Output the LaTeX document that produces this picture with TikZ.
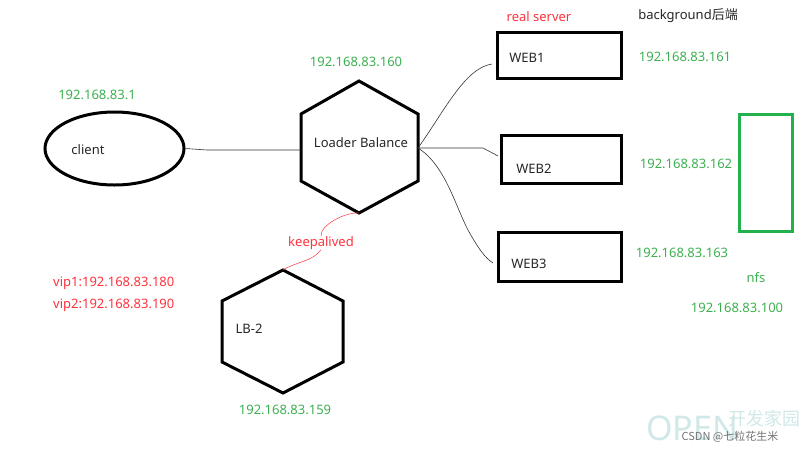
\documentclass[tikz,border=0pt]{standalone}
\usepackage{fontspec}
\setmainfont{Noto Sans}
\newfontfamily\cjk{Noto Sans CJK SC}
\usetikzlibrary{shapes.geometric}
\definecolor{ipgreen}{RGB}{60,176,80}
\definecolor{boxgreen}{RGB}{34,177,76}
\definecolor{lblred}{RGB}{255,50,60}
\tikzset{
  shapeline/.style={line width=3pt, line join=miter},
  boxnode/.style={draw, shapeline, minimum width=124pt, minimum height=46pt, inner sep=0pt},
  iplabel/.style={text=ipgreen, font=\fontsize{13}{15}\selectfont, inner sep=0pt},
  redlabel/.style={text=lblred, font=\fontsize{13}{15}\selectfont, inner sep=0pt},
  blacklabel/.style={text=black!85, font=\fontsize{13}{15}\selectfont, inner sep=0pt},
  thinwire/.style={line width=0.6pt, black!80},
  redwire/.style={line width=0.5pt, lblred},
}
\begin{document}
\begin{tikzpicture}[x=1pt,y=-1pt]
\useasboundingbox (0,0) rectangle (800,450);
% client
\node[draw, shapeline, ellipse, minimum width=139pt, minimum height=73pt, inner sep=0pt] (client) at (114.5,148.5) {};
\node[blacklabel] (clientt) at (88,150) {client};
\node[iplabel] (ipc) at (97,95) {192.168.83.1};
% Loader Balance hexagon
\coordinate (lbT) at (359,81);
\coordinate (lbUL) at (301,114);
\coordinate (lbLL) at (301,181);
\coordinate (lbB) at (359,213);
\coordinate (lbLR) at (418,181);
\coordinate (lbUR) at (418,114);
\coordinate (lbR) at (418,148);
\coordinate (lbL) at (301,150);
\draw[shapeline] (lbT) -- (lbUL) -- (lbLL) -- (lbB) -- (lbLR) -- (lbUR) -- cycle;
\node[blacklabel] (lbt) at (361,143) {Loader Balance};
\node[iplabel] (iplb) at (356,62) {192.168.83.160};
% LB-2 hexagon
\coordinate (lb2T) at (283,270);
\coordinate (lb2UL) at (222,301);
\coordinate (lb2LL) at (222,362);
\coordinate (lb2B) at (283,393);
\coordinate (lb2LR) at (343,362);
\coordinate (lb2UR) at (343,301);
\draw[shapeline] (lb2T) -- (lb2UL) -- (lb2LL) -- (lb2B) -- (lb2LR) -- (lb2UR) -- cycle;
\node[blacklabel] (lb2t) at (249,329) {LB-2};
\node[iplabel] (iplb2) at (285,410) {192.168.83.159};
% web boxes
\node[boxnode, minimum width=124pt, minimum height=46pt] (web1) at (559,55) {};
\node[blacklabel] (web1t) at (527,58) {WEB1};
\node[boxnode, minimum width=120pt, minimum height=48pt] (web2) at (561,159.5) {};
\node[blacklabel] (web2t) at (534,169) {WEB2};
\node[boxnode, minimum width=123pt, minimum height=49pt] (web3) at (559.5,256.5) {};
\node[blacklabel] (web3t) at (529,264) {WEB3};
\node[redlabel] (rs) at (539,17) {real server};
\node[blacklabel] (bg) at (688,16) {background{\cjk 后端}};
\node[iplabel] (ip1) at (685,57) {192.168.83.161};
\node[iplabel] (ip2) at (686,164) {192.168.83.162};
\node[iplabel] (ip3) at (682,253) {192.168.83.163};
% nfs
\node[draw=boxgreen, line width=3pt, minimum width=53pt, minimum height=117pt, inner sep=0pt] (nfs) at (765.5,173) {};
\node[iplabel] (nfst) at (756,278) {nfs};
\node[iplabel] (ipn) at (737,308) {192.168.83.100};
% keepalived and vips
\node[redlabel] (keep) at (321,243) {keepalived};
\node[redlabel, anchor=west] (vip1) at (53,283) {vip1:192.168.83.180};
\node[redlabel, anchor=west] (vip2) at (53,305) {vip2:192.168.83.190};
% connectors
\draw[thinwire] (client.east) -- (207,150) -- (lbL);
\draw[thinwire] (lbR) .. controls (445,110) and (465,68) .. (492,64);
\draw[thinwire] (lbR) -- (483,148) -- (498,156);
\draw[thinwire] (lbR) .. controls (445,165) and (455,205) .. (468,230) .. controls (478,248) and (485,258) .. (493,263);
\draw[redwire] (lbB) .. controls (345,212) and (320,225) .. (keep.north);
\draw[redwire] (keep.south) .. controls (312,262) and (295,262) .. (lb2T);
% watermark
\node[text=teal!18, font=\bfseries\fontsize{34}{36}\selectfont, inner sep=0pt] (wm) at (692,428) {OPEN};
\node[text=teal!18, font=\cjk\fontsize{18}{20}\selectfont, inner sep=0pt] (wm2) at (764,419) {开发家园};
\node[text=black!55, font=\cjk\fontsize{11}{13}\selectfont, inner sep=0pt] (csdn) at (730,437) {CSDN @七粒花生米};
\end{tikzpicture}
\end{document}
